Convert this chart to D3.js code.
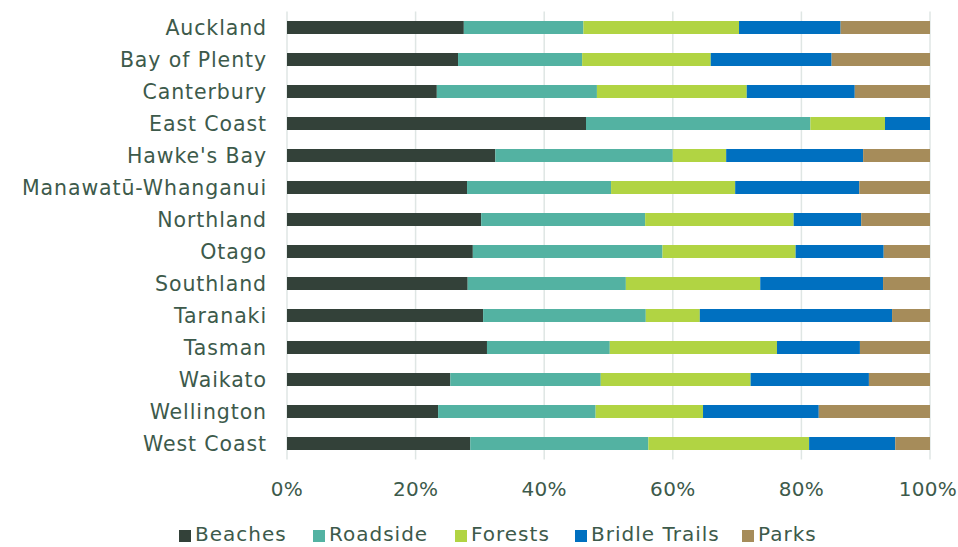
<!DOCTYPE html>
<meta charset="utf-8">
<style>
body { margin: 0; background: #fff; }
text { font-family: "DejaVu Sans", sans-serif; font-size: 20.5px; letter-spacing: 0.9px; fill: #3d5a4b; }
.tick { font-size: 20px; letter-spacing: 0.3px; }
.legend { font-size: 20px; letter-spacing: 1px; }
.grid line { stroke: #dfe6e4; stroke-width: 1.5px; }
</style>
<body>
<script src="https://d3js.org/d3.v7.min.js"></script>
<script>

const regions = ["Auckland", "Bay of Plenty", "Canterbury", "East Coast", "Hawke's Bay",
                 "Manawatū-Whanganui", "Northland", "Otago", "Southland", "Taranaki",
                 "Tasman", "Waikato", "Wellington", "West Coast"];
const series = ["Beaches", "Roadside", "Forests", "Bridle Trails", "Parks"];

// shares in percent, per region, in the series order
const beaches  = [27.5, 26.6, 23.3, 46.5, 32.4, 28.0, 30.2, 28.9, 28.1, 30.5, 31.1, 25.4, 23.5, 28.5];
const roadside = [18.6, 19.3, 24.9, 34.9, 27.6, 22.4, 25.5, 29.5, 24.6, 25.3, 19.1, 23.4, 24.5, 27.7];
const forests  = [24.2, 20.0, 23.3, 11.6,  8.3, 19.3, 23.1, 20.7, 20.9,  8.4, 26.0, 23.3, 16.7, 25.0];
const bridle   = [15.8, 18.8, 16.8,  7.0, 21.3, 19.3, 10.5, 13.7, 19.1, 29.9, 12.9, 18.4, 18.0, 13.4];
const parks    = [13.9, 15.3, 11.7,  0.0, 10.4, 11.0, 10.7,  7.2,  7.3,  5.9, 10.9,  9.5, 17.3,  5.4];
const ticks = [0, 20, 40, 60, 80, 100];

const colors = ["#334139", "#53b2a2", "#b1d443", "#0070c0", "#a68c5a"];

let width = 958,
    height = 547,
    margin = {top: 11.5, right: 28, bottom: 87.5, left: 287};

let data = regions.map((r, i) => ({
    region: r,
    "Beaches": beaches[i],
    "Roadside": roadside[i],
    "Forests": forests[i],
    "Bridle Trails": bridle[i],
    "Parks": parks[i]
}));

let svg = d3.select("body").append("svg")
            .attr("width", width)
            .attr("height", height);

let x = d3.scaleLinear()
            .domain([0, 100])
            .range([margin.left, width - margin.right]);
let y = d3.scaleBand()
            .domain(regions)
            .range([margin.top, height - margin.bottom])
            .paddingInner(0.594)
            .paddingOuter(0.297);
let color = d3.scaleOrdinal()
            .domain(series)
            .range(colors);

// vertical gridlines
svg.append("g")
    .attr("class", "grid")
  .selectAll("line")
  .data(ticks)
  .join("line")
    .attr("x1", d => x(d))
    .attr("x2", d => x(d))
    .attr("y1", margin.top)
    .attr("y2", height - margin.bottom);

let stacked = d3.stack().keys(series)(data);

svg.append("g")
  .selectAll("g")
  .data(stacked)
  .join("g")
    .attr("fill", d => color(d.key))
  .selectAll("rect")
  .data(d => d)
  .join("rect")
    .attr("x", d => x(d[0]))
    .attr("y", d => y(d.data.region))
    .attr("width", d => x(d[1]) - x(d[0]))
    .attr("height", y.bandwidth());

// category labels
svg.append("g")
  .selectAll("text")
  .data(regions)
  .join("text")
    .attr("x", margin.left - 20)
    .attr("y", d => y(d) + y.bandwidth() / 2)
    .attr("dy", "0.35em")
    .attr("text-anchor", "end")
    .text(d => d);

// x tick labels
svg.append("g")
  .selectAll("text")
  .data(ticks)
  .join("text")
    .attr("class", "tick")
    .attr("x", d => x(d) - (d == 100 ? 2 : 0))
    .attr("y", 496)
    .attr("text-anchor", "middle")
    .text(d => d + "%");

// legend
const legendX = [179, 313, 455, 575, 742];
let lg = svg.append("g")
  .selectAll("g")
  .data(series)
  .join("g")
    .attr("transform", (d, i) => `translate(${legendX[i]},0)`);

lg.append("rect")
    .attr("y", 530)
    .attr("width", 12)
    .attr("height", 12)
    .attr("fill", color);

lg.append("text")
    .attr("class", "legend")
    .attr("x", 16)
    .attr("y", 541)
    .text(d => d);

</script>
